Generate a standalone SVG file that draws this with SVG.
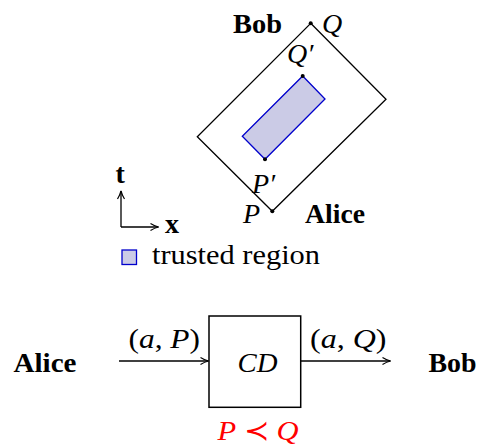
<svg xmlns="http://www.w3.org/2000/svg" width="477" height="447" viewBox="0 0 477 447">
<style>
text{font-family:"Liberation Serif","DejaVu Serif",serif;font-size:28px;fill:#000}
.b{font-weight:bold}
.i{font-style:italic}
.ln{fill:none;stroke:#000;stroke-width:1.3}
.dot{fill:#000}
</style>
<defs>
<marker id="ah" viewBox="0 0 10 10" refX="9" refY="5" markerWidth="10" markerHeight="10" markerUnits="userSpaceOnUse" orient="auto">
<path d="M1,1.5 Q5,4 9,5 Q5,6 1,8.5" fill="none" stroke="#000" stroke-width="1.2"/>
</marker>
</defs>
<g id="spacetime">
<polygon class="ln" points="310.7,23.3 386,99.3 272.3,211.3 197.3,136.7"/>
<polygon points="302.7,76 325,99 265,159.3 242.3,136.3" fill="#cbcbe6" stroke="#0000cc" stroke-width="1.3"/>
<circle class="dot" cx="310.7" cy="23.3" r="2"/>
<circle class="dot" cx="272.3" cy="211.3" r="2"/>
<circle class="dot" cx="302.7" cy="76" r="2"/>
<circle class="dot" cx="265" cy="159.3" r="2"/>
<text class="b" x="233" y="33" textLength="49" lengthAdjust="spacingAndGlyphs">Bob</text>
<text class="i" x="322" y="33">Q</text>
<text class="i" x="287" y="63">Q′</text>
<text class="i" x="252" y="192.5">P′</text>
<text class="i" x="243" y="222.5">P</text>
<text class="b" x="305" y="222.5" textLength="60" lengthAdjust="spacingAndGlyphs">Alice</text>
</g>
<g id="axes">
<line class="ln" x1="121" y1="227" x2="121" y2="191" marker-end="url(#ah)"/>
<line class="ln" x1="121" y1="227" x2="158.5" y2="227" marker-end="url(#ah)"/>
<text class="b" x="115.5" y="183">t</text>
<text class="b" x="165" y="233">x</text>
</g>
<g id="legend">
<rect x="122" y="250" width="14.5" height="14.5" fill="#cbcbe6" stroke="#0000cc" stroke-width="1.3"/>
<text x="152" y="263.5" textLength="168" lengthAdjust="spacingAndGlyphs">trusted region</text>
</g>
<g id="alice">
<text class="b" x="13.5" y="371.5" textLength="63" lengthAdjust="spacingAndGlyphs">Alice</text>
</g>
<g id="cd">
<rect x="209" y="316" width="91.7" height="91.3" fill="none" stroke="#000" stroke-width="1.5"/>
<text class="i" x="237.5" y="371.5" textLength="40" lengthAdjust="spacingAndGlyphs">CD</text>
</g>
<g id="bob">
<text class="b" x="428.5" y="371.5" textLength="48" lengthAdjust="spacingAndGlyphs">Bob</text>
</g>
<g id="connectors">
<line class="ln" x1="119" y1="361" x2="208.5" y2="361" marker-end="url(#ah)"/>
<line class="ln" x1="300.7" y1="361" x2="390.5" y2="361" marker-end="url(#ah)"/>
<text x="128.5" y="348" textLength="71.5" lengthAdjust="spacingAndGlyphs">(<tspan class="i">a</tspan>, <tspan class="i">P</tspan>)</text>
<text x="310" y="348" textLength="76.5" lengthAdjust="spacingAndGlyphs">(<tspan class="i">a</tspan>, <tspan class="i">Q</tspan>)</text>
</g>
<g id="constraint">
<text x="217.5" y="440" style="fill:#ff0000" textLength="81" lengthAdjust="spacingAndGlyphs"><tspan class="i">P</tspan> ≺ <tspan class="i">Q</tspan></text>
</g>
</svg>
